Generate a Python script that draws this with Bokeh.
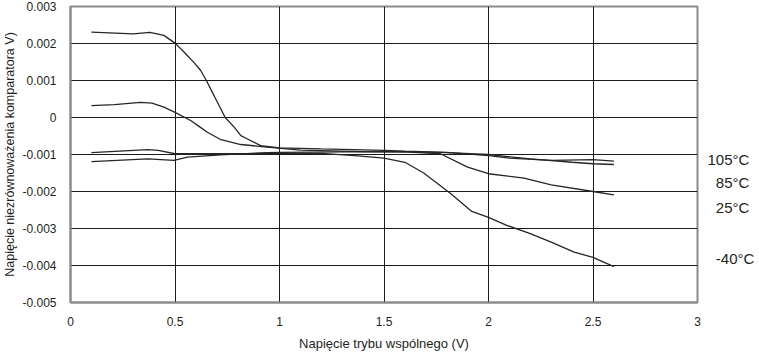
from bokeh.plotting import figure
from bokeh.models import FixedTicker, Range1d, LinearAxis
from bokeh.embed import file_html
from bokeh.resources import INLINE

# Data
x1 = [0.10, 0.30, 0.38, 0.447, 0.50, 0.543, 0.59, 0.623, 0.65, 0.687, 0.74, 0.783, 0.815, 0.847, 0.91, 1.0,
      1.2, 1.5, 1.6, 1.8, 2.0, 2.1, 2.3, 2.5, 2.6]
y1 = [0.00231, 0.00226, 0.00230, 0.00222, 0.00201, 0.00177, 0.00149, 0.00127, 0.00100, 0.00059, 0.00000,
      -0.00026, -0.00049, -0.00058, -0.00076, -0.00082, -0.00085, -0.00089, -0.00091, -0.00094, -0.00103,
      -0.00110, -0.00116, -0.00114, -0.00118]

x2 = [0.10, 0.21, 0.335, 0.39, 0.447, 0.50, 0.575, 0.615, 0.655, 0.72, 0.815, 0.94, 1.1, 1.4, 1.6, 1.77, 1.9,
      2.0, 2.17, 2.3, 2.5, 2.6]
y2 = [0.00032, 0.00035, 0.00041, 0.00039, 0.00028, 0.00014, -0.00008, -0.00024, -0.00040, -0.00060, -0.00073,
      -0.00080, -0.00088, -0.00092, -0.00093, -0.00098, -0.00134, -0.00152, -0.00164, -0.00182, -0.00200,
      -0.00209]

x3 = [0.10, 0.37, 0.42, 0.50, 0.70, 1.0, 1.2, 1.36, 1.5, 1.6, 1.69, 1.82, 1.92, 2.0, 2.09, 2.2, 2.3, 2.41,
      2.5, 2.6]
y3 = [-0.00095, -0.00087, -0.00089, -0.00098, -0.00098, -0.00097, -0.00097, -0.00103, -0.00110, -0.00121,
      -0.00150, -0.00206, -0.00254, -0.00270, -0.00292, -0.00314, -0.00337, -0.00364, -0.00378, -0.00403]

x4 = [0.10, 0.37, 0.495, 0.56, 0.72, 0.94, 1.0, 1.3, 1.6, 1.8, 2.0, 2.2, 2.4, 2.5, 2.6]
y4 = [-0.00119, -0.00112, -0.00116, -0.00107, -0.00101, -0.00095, -0.00094, -0.00093, -0.00092, -0.00095,
      -0.00100, -0.00112, -0.00121, -0.00125, -0.00127]

x_ticks = [0, 0.5, 1, 1.5, 2, 2.5, 3]
x_tick_labels = ["0", "0.5", "1", "1.5", "2", "2.5", "3"]
y_ticks = [0.003, 0.002, 0.001, 0, -0.001, -0.002, -0.003, -0.004, -0.005]
y_tick_labels = ["0.003", "0.002", "0.001", "0", "-0.001", "-0.002", "-0.003", "-0.004", "-0.005"]

# temperature labels at the right edge (y values where they sit)
temp_labels = ["105°C", "\u200785°C", "\u200725°C", "\u2007-40°C"]
temp_label_y = [-0.001135, -0.001757, -0.002432, -0.003811]

FONT = "Liberation Sans"
TXT = "#231f20"

p = figure(width=759, height=355, output_backend="svg", toolbar_location=None,
           x_range=Range1d(0, 3), y_range=Range1d(-0.005, 0.003),
           min_border_left=70, min_border_right=62, min_border_top=6, min_border_bottom=53)

for xs, ys in [(x1, y1), (x2, y2), (x3, y3), (x4, y4)]:
    p.line(xs, ys, line_color="#262626", line_width=1.3)

p.xaxis.ticker = FixedTicker(ticks=x_ticks)
p.xaxis.major_label_overrides = {t: l for t, l in zip(x_ticks, x_tick_labels)}
p.yaxis.ticker = FixedTicker(ticks=y_ticks)
p.yaxis.major_label_overrides = {t: l for t, l in zip(y_ticks, y_tick_labels)}

p.xaxis.axis_label = "Napięcie trybu wspólnego (V)"
p.yaxis.axis_label = "Napięcie niezrównoważenia komparatora V)"

for ax in (p.xaxis, p.yaxis):
    ax.major_tick_line_color = None
    ax.minor_tick_line_color = None
    ax.axis_line_color = "#8c8c8c"
    ax.axis_line_width = 2
    ax.major_label_text_font = FONT
    ax.major_label_text_font_size = "12px"
    ax.major_label_text_color = TXT
    ax.axis_label_text_font = FONT
    ax.axis_label_text_font_style = "normal"
    ax.axis_label_text_color = TXT

p.xaxis.axis_label_text_font_size = "13px"
p.yaxis.axis_label_text_font_size = "12.5px"
p.xaxis.major_label_standoff = 8
p.yaxis.major_label_standoff = 8
p.xaxis.axis_label_standoff = 7
p.yaxis.axis_label_standoff = 2

# right-side temperature labels via an unlined axis
tax = LinearAxis(ticker=FixedTicker(ticks=temp_label_y),
                 major_label_overrides={t: l for t, l in zip(temp_label_y, temp_labels)})
tax.axis_line_color = None
tax.major_tick_line_color = None
tax.minor_tick_line_color = None
tax.major_tick_out = 0
tax.major_tick_in = 0
tax.minor_tick_out = 0
tax.major_label_standoff = 10
tax.major_label_text_font = FONT
tax.major_label_text_font_size = "15px"
tax.major_label_text_color = TXT
p.add_layout(tax, "right")

p.xgrid.ticker = FixedTicker(ticks=x_ticks)
p.ygrid.ticker = FixedTicker(ticks=y_ticks)
p.grid.grid_line_color = "#1a1a1a"
p.grid.grid_line_width = 1
p.grid.grid_line_alpha = 1

p.outline_line_color = "#8c8c8c"
p.outline_line_width = 2
p.outline_line_alpha = 1
p.background_fill_color = "white"
p.border_fill_color = "white"

open("out.html", "w").write(file_html(p, INLINE))
